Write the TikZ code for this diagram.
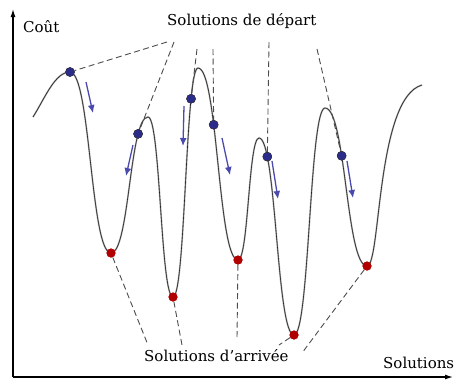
\documentclass[tikz,border=0pt]{standalone}
\usepackage{fontspec}
\setmainfont{DejaVu Serif}
\usetikzlibrary{arrows.meta}
\definecolor{dotblue}{HTML}{2B2B8C}
\definecolor{arrblue}{HTML}{4A4AAE}
\definecolor{dotred}{HTML}{B00000}
\tikzset{
 curvehalo/.style={line width=1.6pt, black!35},
 curvecore/.style={line width=0.6pt, black!85},
 guide/.style={dash pattern=on 6pt off 3.5pt, black!70, line width=0.9pt},
 startdot/.style={circle, fill=dotblue, draw=black!80, line width=0.4pt, inner sep=0pt, minimum size=9pt},
 enddot/.style={circle, fill=dotred, inner sep=0pt, minimum size=9pt},
 descent/.style={arrblue, line width=1.3pt, -{Latex[length=8pt,width=7pt]}},
 axisline/.style={line width=1.2pt, -{Latex[length=8pt,width=5pt]}},
 lab/.style={font=\fontsize{15}{18}\selectfont, inner sep=0pt, anchor=base west}
}
\begin{document}
\begin{tikzpicture}[x=1pt,y=-1pt]
\useasboundingbox (0,0) rectangle (455,381);
% landscape curve
\def\landscape{(33,117) .. controls (45,98) and (55,72) .. (70,72) coordinate (b1)
 .. controls (90.5,72) and (90.5,253) .. (111,253) coordinate (m1)
 .. controls (129.5,253) and (129.5,117) .. coordinate[pos=0.78] (b2) (148,117)
 .. controls (160.5,117) and (160.5,297) .. (173,297) coordinate (m2)
 .. controls (185.5,297) and (185.5,68) .. coordinate[pos=0.77] (b3) (198,68)
 .. controls (218,68) and (218,260) .. coordinate[pos=0.36] (b4) (238,260) coordinate (m3)
 .. controls (248.5,260) and (248.5,138) .. (259,138)
 .. controls (276.5,138) and (276.5,335) .. coordinate[pos=0.19] (b5) (294,335) coordinate (m4)
 .. controls (309.5,335) and (309.5,108) .. (325,108)
 .. controls (346,108) and (346,266) .. coordinate[pos=0.365] (b6) (367,266) coordinate (m5)
 .. controls (381,266) and (376,98) .. (422,85)}
\draw[curvehalo] \landscape;
\draw[curvecore] \landscape;
% axes
\coordinate (O) at (13,377);
\coordinate (Ytop) at (13,9);
\coordinate (Xend) at (453,377);
\draw[axisline] (O) -- (Ytop);
\draw[axisline] (O) -- (Xend);
% labels
\node[lab] (cout) at (23,32) {Coût};
\node[lab] (depart) at (167,25) {Solutions de départ};
\node[lab] (arrivee) at (144,361) {Solutions d’arrivée};
\node[lab] (sol) at (383,368) {Solutions};
% dots
\foreach \i in {1,...,6} { \node[startdot] (B\i) at (b\i) {}; }
\foreach \i in {1,...,5} { \node[enddot] (R\i) at (m\i) {}; }
% guide free ends
\coordinate (s1) at (167,42);
\coordinate (s2) at (174,42);
\coordinate (s3) at (197,49);
\coordinate (s4) at (213,49);
\coordinate (s5) at (269,42);
\coordinate (s6) at (317,49);
\coordinate (e1) at (148,345);
\coordinate (e2) at (182,345);
\coordinate (e3) at (237,338);
\coordinate (e4) at (279,345);
\coordinate (e5) at (302,353);
\foreach \i in {1,...,6} { \draw[guide] (s\i) -- (B\i); }
\foreach \i in {1,...,5} { \draw[guide] (R\i) -- (e\i); }
% descent arrows
\coordinate (a1s) at (86,82);   \coordinate (a1e) at (93,113);
\coordinate (a2s) at (133,145); \coordinate (a2e) at (126,176);
\coordinate (a3s) at (184,106); \coordinate (a3e) at (183,146);
\coordinate (a4s) at (222,138); \coordinate (a4e) at (230,175);
\coordinate (a5s) at (272,161); \coordinate (a5e) at (278,199);
\coordinate (a6s) at (347,161); \coordinate (a6e) at (353,198);
\foreach \i in {1,...,6} { \draw[descent] (a\i s) -- (a\i e); }
% dots on top
\foreach \i in {1,...,6} { \node[startdot] at (b\i) {}; }
\foreach \i in {1,...,5} { \node[enddot] at (m\i) {}; }
\end{tikzpicture}
\end{document}
